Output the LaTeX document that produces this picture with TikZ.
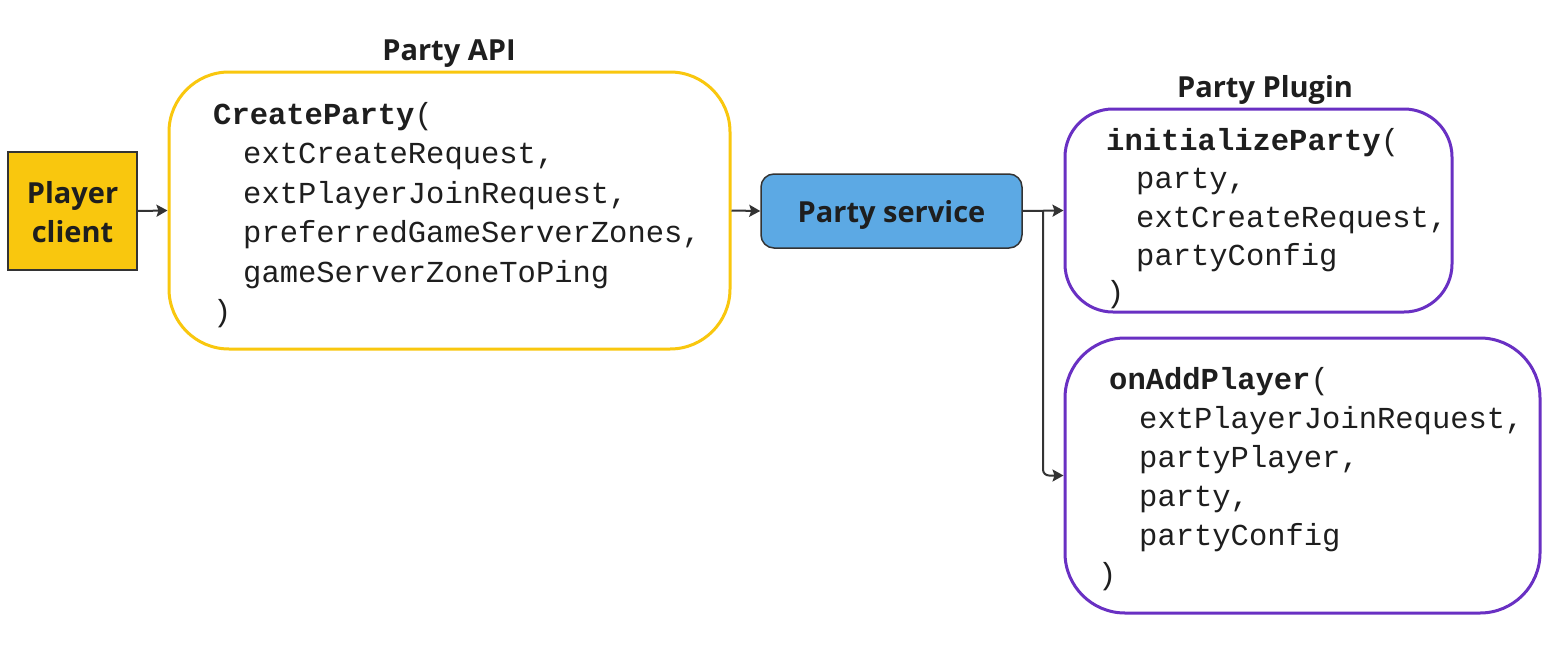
\documentclass[tikz,border=0pt]{standalone}
\usepackage{fontspec}
\setmainfont{Open Sans}
\newfontfamily\monof{Liberation Mono}
\usetikzlibrary{arrows.meta}
\definecolor{ylw}{RGB}{249,199,14}
\definecolor{blu}{RGB}{92,169,228}
\definecolor{prp}{RGB}{105,48,195}
\definecolor{ink}{RGB}{30,30,30}
\definecolor{lin}{RGB}{51,51,51}
\tikzset{
  lbl/.style={font=\fontsize{29}{34}\selectfont\bfseries, text=ink, inner sep=0pt},
  codeln/.style={font=\fontsize{30.5}{36}\selectfont\monof, text=ink, anchor=base west, inner sep=0pt},
  codehd/.style={codeln, font=\fontsize{30.5}{36}\selectfont\monof\bfseries},
  conn/.style={draw=lin, line width=2pt, -{Stealth[length=11pt,width=12pt,inset=2pt]}},
  fnbox/.style={draw, line width=3pt, fill=white},
}
\begin{document}
\begin{tikzpicture}[x=1pt,y=-1pt]
\useasboundingbox[fill=white] (0,0) rectangle (1548,645);

% Player client
\node[draw=lin, line width=1.5pt, fill=ylw, minimum width=129pt, minimum height=118pt, inner sep=0pt] (pc) at (72.5,211) {};
\node[lbl, anchor=base] (pc1) at (72.5,203) {Player};
\node[lbl, anchor=base] (pc2) at (72.5,242) {client};

% Party API
\node[lbl, anchor=base] (apil) at (449,60) {Party API};
\node[fnbox, draw=ylw, rounded corners=60pt, minimum width=561pt, minimum height=277pt] (api) at (449.5,210.5) {};
\node[codehd] (a0) at (213,124) {CreateParty\mdseries(};
\node[codeln] (a1) at (243,163.5) {extCreateRequest,};
\node[codeln] (a2) at (243,203) {extPlayerJoinRequest,};
\node[codeln] (a3) at (243,242.5) {preferredGameServerZones,};
\node[codeln] (a4) at (243,282) {gameServerZoneToPing};
\node[codeln] (a5) at (213,321.5) {)};

% Party service
\node[draw=lin, line width=1.5pt, fill=blu, rounded corners=13pt, minimum width=261pt, minimum height=74pt] (ps) at (891.5,211) {};
\node[lbl, anchor=base] (psl) at (891.5,222) {Party service};

% Party Plugin
\node[lbl, anchor=base] (ppl) at (1265,97) {Party Plugin};
\node[fnbox, draw=prp, rounded corners=48pt, minimum width=387pt, minimum height=203pt] (ip) at (1258.5,210.5) {};
\node[codehd] (i0) at (1106,150) {initializeParty\mdseries(};
\node[codeln] (i1) at (1136,188.5) {party,};
\node[codeln] (i2) at (1136,227) {extCreateRequest,};
\node[codeln] (i3) at (1136,265.5) {partyConfig};
\node[codeln] (i4) at (1106,302) {)};

\node[fnbox, draw=prp, rounded corners=60pt, minimum width=475pt, minimum height=275pt] (oa) at (1302.5,475.5) {};
\node[codehd] (o0) at (1109,389) {onAddPlayer\mdseries(};
\node[codeln] (o1) at (1139,428) {extPlayerJoinRequest,};
\node[codeln] (o2) at (1139,467) {partyPlayer,};
\node[codeln] (o3) at (1139,506) {party,};
\node[codeln] (o4) at (1139,545) {partyConfig};
\node[codeln] (o5) at (1098,584) {)};

% connectors
\draw[conn] (pc.east) -- (api.west);
\draw[conn] (api.east) -- (ps.west);
\draw[conn] (ps.east) -- (ip.west);
\coordinate (br) at (1043,211);
\draw[conn, rounded corners=6pt] (br) |- (oa.west);
\end{tikzpicture}
\end{document}
